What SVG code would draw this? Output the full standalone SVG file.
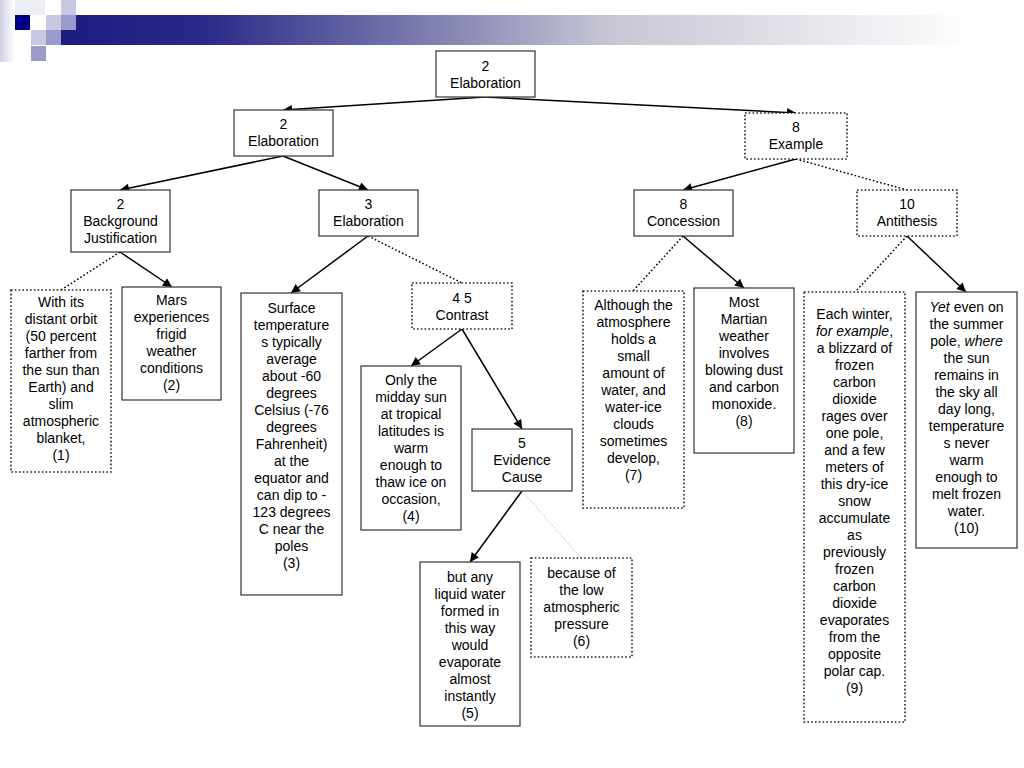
<svg xmlns="http://www.w3.org/2000/svg" width="1024" height="768" viewBox="0 0 1024 768">
<defs>
<linearGradient id="bar" x1="61" y1="0" x2="1024" y2="0" gradientUnits="userSpaceOnUse">
<stop offset="0" stop-color="#1c1c80"/>
<stop offset="0.15" stop-color="#2a2a88"/>
<stop offset="0.42" stop-color="#8c8cb6"/>
<stop offset="0.56" stop-color="#c4c4d4"/>
<stop offset="0.95" stop-color="#ffffff"/>
</linearGradient>
<linearGradient id="edge" x1="0" y1="0" x2="1" y2="0">
<stop offset="0" stop-color="#d0d0e6"/>
<stop offset="1" stop-color="#ffffff"/>
</linearGradient>
<marker id="arr" viewBox="0 0 10 10" refX="10" refY="5" markerWidth="10" markerHeight="9" markerUnits="userSpaceOnUse" orient="auto">
<path d="M0,0 L10,5 L0,10 z" fill="#000"/>
</marker>
<style>
.n rect{fill:#fff;stroke:#333;stroke-width:1.2}
.d rect{fill:#fff;stroke:#222;stroke-width:1.6;stroke-dasharray:1.6,2.2}
text{font-family:"Liberation Sans",Arial,sans-serif;font-size:14px;fill:#000;text-anchor:middle}
.e line{stroke:#000;stroke-width:1.5;marker-end:url(#arr)}
.e line.dot{stroke:#000;stroke-width:1.5;stroke-dasharray:1.6,2.2;marker-end:none}
.e line.faint{stroke:#aaa;stroke-width:0.8;stroke-dasharray:1.5,1.5;marker-end:none}
</style>
</defs>
<rect width="1024" height="768" fill="#fff"/>
<g id="header">
<rect x="0" y="0" width="15" height="62" fill="url(#edge)"/>
<rect x="15" y="0" width="30" height="15" fill="#eeeef6"/>
<rect x="61" y="15" width="963" height="30" fill="url(#bar)"/>
<rect x="15" y="15" width="15" height="15" fill="#000080"/>
<rect x="46" y="15" width="15" height="15" fill="#c8c8e2"/>
<rect x="61" y="0" width="15" height="15" fill="#c8c8e2"/>
<rect x="61" y="15" width="15" height="15" fill="#9a9acc"/>
<rect x="31" y="30" width="15" height="15" fill="#c8c8e2"/>
<rect x="46" y="30" width="15" height="15" fill="#9a9acc"/>
<rect x="31" y="46" width="15" height="15" fill="#9a9acc"/>
</g>
<g id="connectors" class="e">
<line x1="485" y1="97" x2="283" y2="110"/>
<line x1="485" y1="97" x2="796" y2="113"/>
<line x1="283" y1="156" x2="120" y2="190"/>
<line x1="283" y1="156" x2="368" y2="190"/>
<line x1="796" y1="159" x2="683" y2="190"/>
<line class="dot" x1="796" y1="159" x2="907" y2="190"/>
<line x1="120" y1="252" x2="172" y2="287"/>
<line class="dot" x1="120" y1="252" x2="61" y2="290"/>
<line x1="368" y1="236" x2="291" y2="293"/>
<line class="dot" x1="368" y1="236" x2="462" y2="283"/>
<line x1="462" y1="329" x2="411" y2="366"/>
<line x1="462" y1="329" x2="522" y2="429"/>
<line x1="522" y1="491" x2="470" y2="562"/>
<line class="faint" x1="522" y1="491" x2="581" y2="558"/>
<line x1="683" y1="236" x2="744" y2="288"/>
<line class="dot" x1="683" y1="236" x2="633" y2="291"/>
<line x1="907" y1="236" x2="966" y2="292"/>
<line class="dot" x1="907" y1="236" x2="855" y2="292"/>
</g>
<g id="n-root" class="n"><rect x="436" y="51" width="99" height="46"/>
<text x="485.5" y="71">2</text><text x="485.5" y="88">Elaboration</text></g>
<g id="n-elab2" class="n"><rect x="234" y="110" width="99" height="46"/>
<text x="283.5" y="129">2</text><text x="283.5" y="146">Elaboration</text></g>
<g id="n-example" class="d"><rect x="745" y="113" width="102" height="46"/>
<text x="796" y="132">8</text><text x="796" y="149">Example</text></g>
<g id="n-bj" class="n"><rect x="71" y="190" width="99" height="62"/>
<text x="120.5" y="209">2</text><text x="120.5" y="226">Background</text><text x="120.5" y="243">Justification</text></g>
<g id="n-elab3" class="n"><rect x="319" y="190" width="99" height="46"/>
<text x="368.5" y="209">3</text><text x="368.5" y="226">Elaboration</text></g>
<g id="n-concession" class="n"><rect x="634" y="190" width="99" height="46"/>
<text x="683.5" y="209">8</text><text x="683.5" y="226">Concession</text></g>
<g id="n-antithesis" class="d"><rect x="857" y="190" width="100" height="46"/>
<text x="907" y="209">10</text><text x="907" y="226">Antithesis</text></g>
<g id="n-1" class="d"><rect x="11" y="290" width="100" height="182"/>
<text x="61" y="307">With its</text><text x="61" y="324">distant orbit</text><text x="61" y="341">(50 percent</text><text x="61" y="358">farther from</text><text x="61" y="375">the sun than</text><text x="61" y="392">Earth) and</text><text x="61" y="409">slim</text><text x="61" y="426">atmospheric</text><text x="61" y="443">blanket,</text><text x="61" y="460">(1)</text></g>
<g id="n-2" class="n"><rect x="122" y="287" width="99" height="113"/>
<text x="171.5" y="305">Mars</text><text x="171.5" y="322">experiences</text><text x="171.5" y="339">frigid</text><text x="171.5" y="356">weather</text><text x="171.5" y="373">conditions</text><text x="171.5" y="390">(2)</text></g>
<g id="n-3" class="n"><rect x="241" y="293" width="101" height="302"/>
<text x="291.5" y="313">Surface</text><text x="291.5" y="330">temperature</text><text x="291.5" y="347">s typically</text><text x="291.5" y="364">average</text><text x="291.5" y="381">about -60</text><text x="291.5" y="398">degrees</text><text x="291.5" y="415">Celsius (-76</text><text x="291.5" y="432">degrees</text><text x="291.5" y="449">Fahrenheit)</text><text x="291.5" y="466">at the</text><text x="291.5" y="483">equator and</text><text x="291.5" y="500">can dip to -</text><text x="291.5" y="517">123 degrees</text><text x="291.5" y="534">C near the</text><text x="291.5" y="551">poles</text><text x="291.5" y="568">(3)</text></g>
<g id="n-contrast" class="d"><rect x="412" y="283" width="100" height="46"/>
<text x="462" y="303">4 5</text><text x="462" y="320">Contrast</text></g>
<g id="n-4" class="n"><rect x="361" y="366" width="100" height="164"/>
<text x="411" y="385">Only the</text><text x="411" y="402">midday sun</text><text x="411" y="419">at tropical</text><text x="411" y="436">latitudes is</text><text x="411" y="453">warm</text><text x="411" y="470">enough to</text><text x="411" y="487">thaw ice on</text><text x="411" y="504">occasion,</text><text x="411" y="521">(4)</text></g>
<g id="n-evidence" class="n"><rect x="472" y="429" width="100" height="62"/>
<text x="522" y="448">5</text><text x="522" y="465">Evidence</text><text x="522" y="482">Cause</text></g>
<g id="n-5" class="n"><rect x="420" y="562" width="100" height="164"/>
<text x="470" y="582">but any</text><text x="470" y="599">liquid water</text><text x="470" y="616">formed in</text><text x="470" y="633">this way</text><text x="470" y="650">would</text><text x="470" y="667">evaporate</text><text x="470" y="684">almost</text><text x="470" y="701">instantly</text><text x="470" y="718">(5)</text></g>
<g id="n-6" class="d"><rect x="531" y="558" width="101" height="99"/>
<text x="581.5" y="578">because of</text><text x="581.5" y="595">the low</text><text x="581.5" y="612">atmospheric</text><text x="581.5" y="629">pressure</text><text x="581.5" y="646">(6)</text></g>
<g id="n-7" class="d"><rect x="583" y="291" width="101" height="217"/>
<text x="633.5" y="310">Although the</text><text x="633.5" y="327">atmosphere</text><text x="633.5" y="344">holds a</text><text x="633.5" y="361">small</text><text x="633.5" y="378">amount of</text><text x="633.5" y="395">water, and</text><text x="633.5" y="412">water-ice</text><text x="633.5" y="429">clouds</text><text x="633.5" y="446">sometimes</text><text x="633.5" y="463">develop,</text><text x="633.5" y="480">(7)</text></g>
<g id="n-8" class="n"><rect x="694" y="288" width="100" height="165"/>
<text x="744" y="307">Most</text><text x="744" y="324">Martian</text><text x="744" y="341">weather</text><text x="744" y="358">involves</text><text x="744" y="375">blowing dust</text><text x="744" y="392">and carbon</text><text x="744" y="409">monoxide.</text><text x="744" y="426">(8)</text></g>
<g id="n-9" class="d"><rect x="804" y="292" width="101" height="430"/>
<text x="854.5" y="319">Each winter,</text><text x="854.5" y="336"><tspan font-style="italic">for example</tspan>,</text><text x="854.5" y="353">a blizzard of</text><text x="854.5" y="370">frozen</text><text x="854.5" y="387">carbon</text><text x="854.5" y="404">dioxide</text><text x="854.5" y="421">rages over</text><text x="854.5" y="438">one pole,</text><text x="854.5" y="455">and a few</text><text x="854.5" y="472">meters of</text><text x="854.5" y="489">this dry-ice</text><text x="854.5" y="506">snow</text><text x="854.5" y="523">accumulate</text><text x="854.5" y="540">as</text><text x="854.5" y="557">previously</text><text x="854.5" y="574">frozen</text><text x="854.5" y="591">carbon</text><text x="854.5" y="608">dioxide</text><text x="854.5" y="625">evaporates</text><text x="854.5" y="642">from the</text><text x="854.5" y="659">opposite</text><text x="854.5" y="676">polar cap.</text><text x="854.5" y="693">(9)</text></g>
<g id="n-10" class="n"><rect x="916" y="292" width="101" height="256"/>
<text x="966.5" y="312"><tspan font-style="italic">Yet</tspan> even on</text><text x="966.5" y="329">the summer</text><text x="966.5" y="346">pole, <tspan font-style="italic">where</tspan></text><text x="966.5" y="363">the sun</text><text x="966.5" y="380">remains in</text><text x="966.5" y="397">the sky all</text><text x="966.5" y="414">day long,</text><text x="966.5" y="431">temperature</text><text x="966.5" y="448">s never</text><text x="966.5" y="465">warm</text><text x="966.5" y="482">enough to</text><text x="966.5" y="499">melt frozen</text><text x="966.5" y="516">water.</text><text x="966.5" y="533">(10)</text></g>
</svg>
